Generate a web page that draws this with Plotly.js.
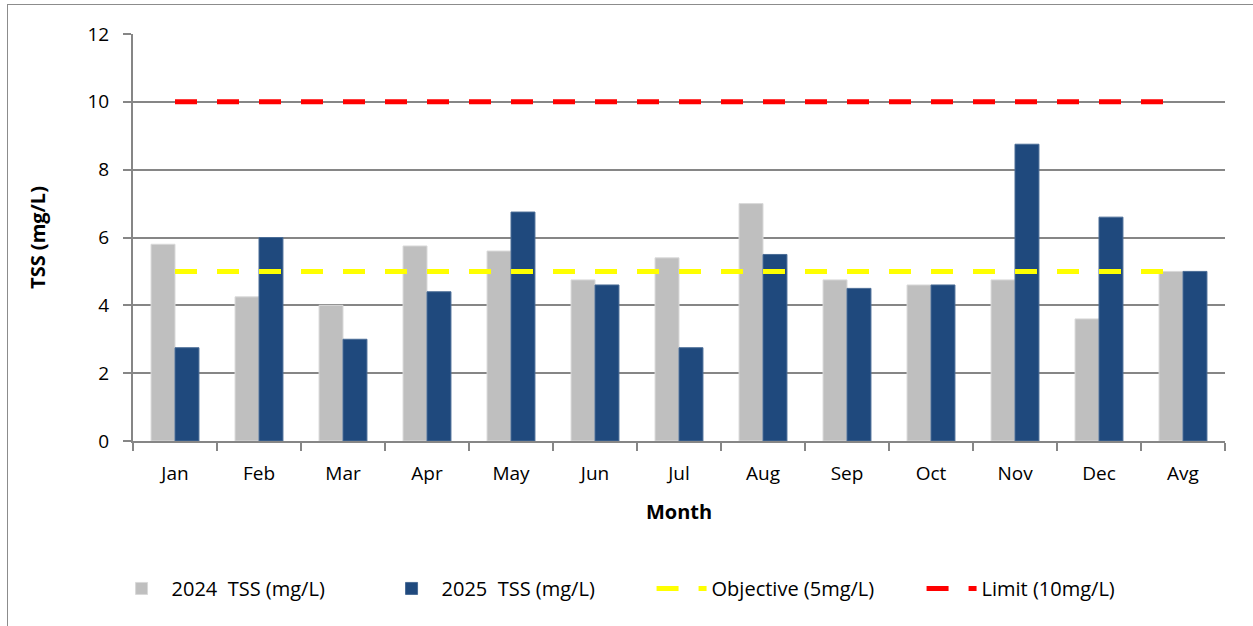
<!DOCTYPE html>
<html>
<head>
<meta charset="utf-8">
<script src="https://cdn.plot.ly/plotly-3.0.1.min.js"></script>
<style>
html,body{margin:0;padding:0;background:#fff;}
#chart{width:1253px;height:626px;}
#frame{position:absolute;left:7px;top:4px;width:1300px;height:700px;border:1px solid #8c8c8c;pointer-events:none;}
</style>
</head>
<body>
<div id="chart"></div>
<div id="frame"></div>
<script>
const months = ["Jan","Feb","Mar","Apr","May","Jun","Jul","Aug","Sep","Oct","Nov","Dec","Avg"];
const tss2024 = [5.8,4.25,4.0,5.75,5.6,4.75,5.4,7.0,4.75,4.6,4.75,3.6,5.0];
const tss2025 = [2.75,6.0,3.0,4.4,6.75,4.6,2.75,5.5,4.5,4.6,8.75,6.6,5.0];
const objective = months.map(() => 5);
const limit = months.map(() => 10);

const font = "'Open Sans', Lato, sans-serif";

const traces = [
  {type:"bar", name:"2024\u00a0 TSS (mg/L)", x:months, y:tss2024,
   marker:{color:"#bfbfbf", line:{color:"#d9d9d9", width:1}}},
  {type:"bar", name:"2025\u00a0 TSS (mg/L)", x:months, y:tss2025,
   marker:{color:"#1f497d", line:{color:"#4a6c96", width:1}}},
  {type:"scatter", mode:"lines", name:"Objective (5mg/L)", x:months, y:objective,
   line:{color:"#ffff00", width:5, dash:"22px,20px"}},
  {type:"scatter", mode:"lines", name:"Limit (10mg/L)", x:months, y:limit,
   line:{color:"#ff0000", width:5, dash:"22px,20px"}}
];

const layout = {
  width:1253, height:626,
  margin:{l:133, r:28, t:34, b:185, autoexpand:false},
  paper_bgcolor:"#ffffff", plot_bgcolor:"#ffffff",
  barmode:"group", bargap:0.43, bargroupgap:0,
  font:{family:font, size:19, color:"#000"},
  showlegend:true,
  legend:{orientation:"h", x:0.52, xref:"container", xanchor:"center", y:0.06, yref:"container", yanchor:"middle",
          font:{family:font, size:20, color:"#000"}, itemwidth:50, entrywidth:205, traceorder:"normal"},
  xaxis:{
    type:"category", showgrid:false, showline:true, linecolor:"#868686", linewidth:2,
    ticks:"outside", tickson:"boundaries", ticklen:8, tickcolor:"#868686", tickwidth:2,
    tickfont:{family:font, size:19}, ticklabelstandoff:14, automargin:false,
    title:{text:"<b>Month</b>", font:{family:font, size:20}, standoff:20}
  },
  yaxis:{
    range:[0,12], dtick:2, showgrid:true, gridcolor:"#868686", gridwidth:2,
    showline:true, linecolor:"#868686", linewidth:2, zeroline:false,
    ticks:"outside", ticklen:8, tickcolor:"#868686", tickwidth:2,
    tickfont:{family:font, size:19}, ticklabelstandoff:10, automargin:false,
    title:{text:"<b>TSS (mg/L)</b>", font:{family:font, size:20}, standoff:36}
  }
};

Plotly.newPlot("chart", traces, layout, {displayModeBar:false, staticPlot:true});
</script>
</body>
</html>
